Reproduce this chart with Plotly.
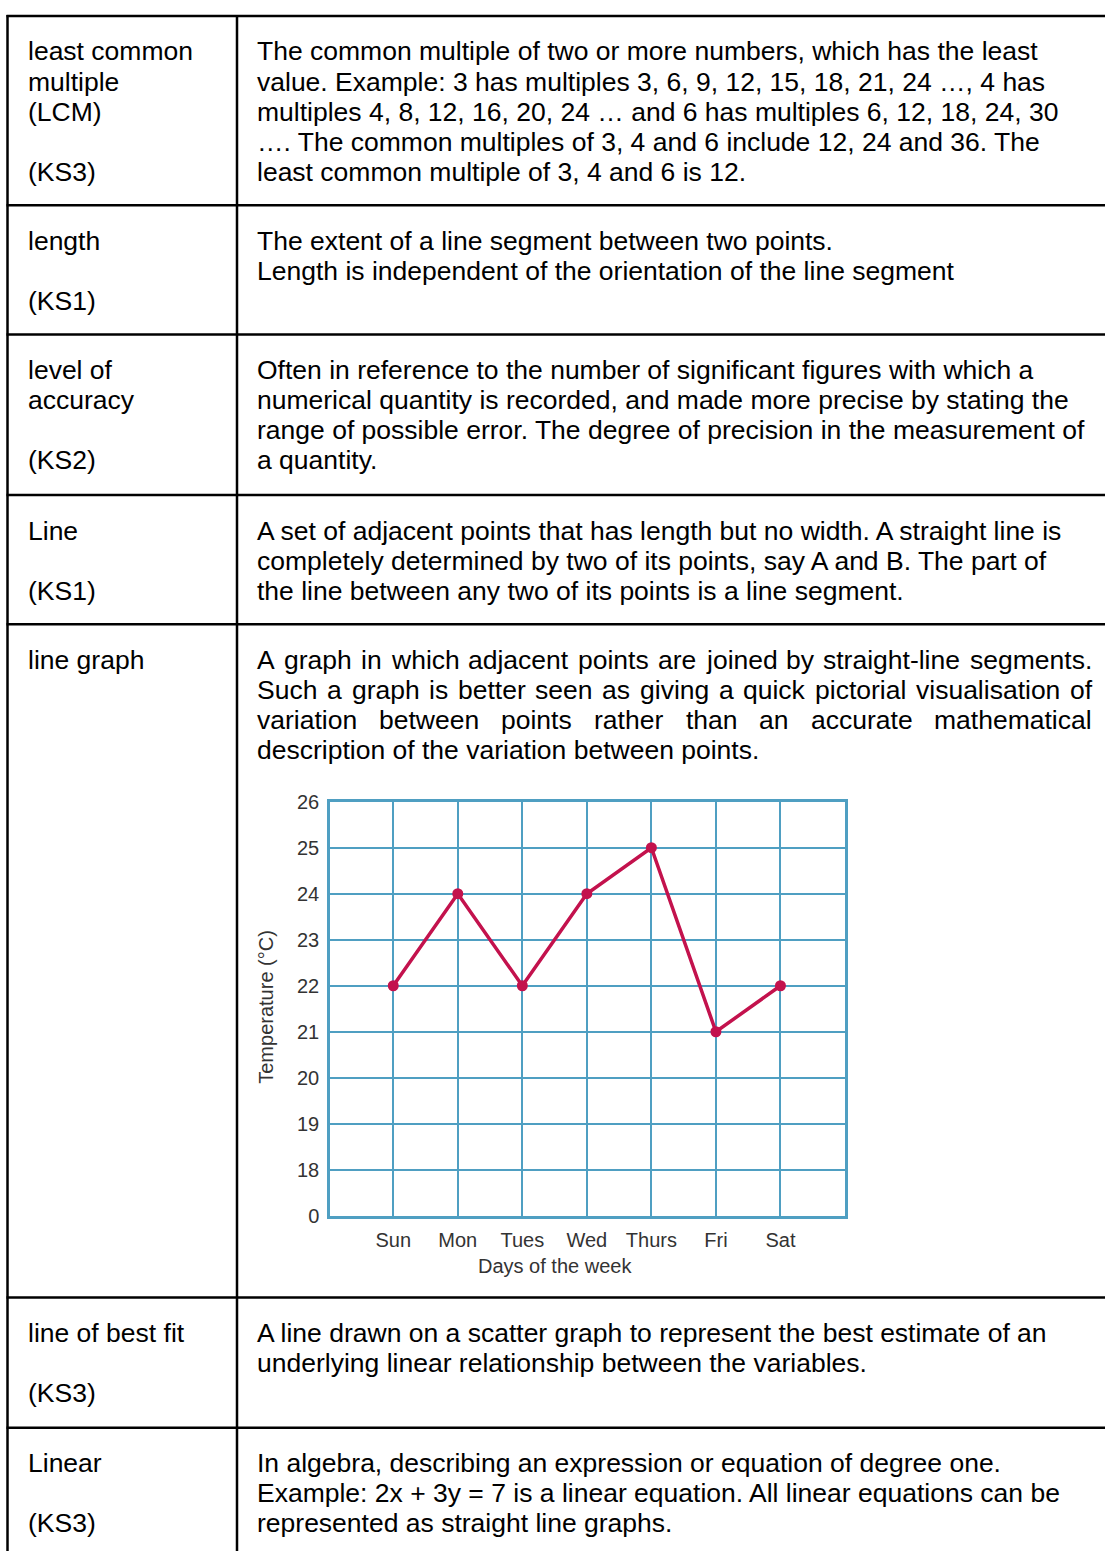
import plotly.graph_objects as go

W, H = 1105, 1562

# ---------------- chart data ----------------
days = ["Sun", "Mon", "Tues", "Wed", "Thurs", "Fri", "Sat"]
temperature = [22, 24, 22, 24, 25, 21, 22]
y_tick_values = [17, 18, 19, 20, 21, 22, 23, 24, 25, 26]
y_tick_labels = ["0", "18", "19", "20", "21", "22", "23", "24", "25", "26"]
x_title = "Days of the week"
y_title = "Temperature (°C)"

# ---------------- table text ----------------
terms = [
    ["least common", "multiple", "(LCM)", "", "(KS3)"],
    ["length", "", "(KS1)"],
    ["level of", "accuracy", "", "(KS2)"],
    ["Line", "", "(KS1)"],
    ["line graph"],
    ["line of best fit", "", "(KS3)"],
    ["Linear", "", "(KS3)"],
]
definitions = [
    ["The common multiple of two or more numbers, which has the least",
     "value. Example: 3 has multiples 3, 6, 9, 12, 15, 18, 21, 24 …, 4 has",
     "multiples 4, 8, 12, 16, 20, 24 … and 6 has multiples 6, 12, 18, 24, 30",
     "…. The common multiples of 3, 4 and 6 include 12, 24 and 36. The",
     "least common multiple of 3, 4 and 6 is 12."],
    ["The extent of a line segment between two points.",
     "Length is independent of the orientation of the line segment"],
    ["Often in reference to the number of significant figures with which a",
     "numerical quantity is recorded, and made more precise by stating the",
     "range of possible error. The degree of precision in the measurement of",
     "a quantity."],
    ["A set of adjacent points that has length but no width. A straight line is",
     "completely determined by two of its points, say A and B. The part of",
     "the line between any two of its points is a line segment."],
    ["A graph in which adjacent points are joined by straight-line segments.",
     "Such a graph is better seen as giving a quick pictorial visualisation of",
     "variation between points rather than an accurate mathematical",
     "description of the variation between points."],
    ["A line drawn on a scatter graph to represent the best estimate of an",
     "underlying linear relationship between the variables."],
    ["In algebra, describing an expression or equation of degree one.",
     "Example: 2x + 3y = 7 is a linear equation. All linear equations can be",
     "represented as straight line graphs."],
]
justified_lines = {(4, 0), (4, 1), (4, 2)}

# ---------------- layout constants ----------------
row_tops = [5, 197, 328, 491, 622, 1305, 1437]
first_line_offset = 36
line_step = 30.55
text_size = 26.5
left_x = 27
right_x = 256
right_edge = 1091
col_x = 237
table_left = 7.5
TEXT_FONT = "Liberation Sans, Arial, sans-serif"

# Arial glyph widths (per 1000 em) for justification
AW = dict(zip("abcdefghijklmnopqrstuvwxyz",
              [556, 556, 500, 556, 556, 278, 556, 556, 222, 222, 500, 222, 833,
               556, 556, 556, 556, 333, 500, 278, 556, 500, 722, 500, 500, 500]))
AW.update(dict(zip("ABCDEFGHIJKLMNOPQRSTUVWXYZ",
                   [667, 667, 722, 722, 667, 611, 778, 722, 278, 500, 667, 556, 833,
                    722, 778, 667, 778, 722, 667, 611, 722, 667, 944, 667, 667, 611])))
AW.update({c: 556 for c in "0123456789"})
AW.update({" ": 278, ".": 278, ",": 278, "-": 333, "(": 333, ")": 333})


def word_width(w):
    return sum(AW.get(c, 556) for c in w) * text_size / 1000.0


def px(x):
    return x / W


def py(y):
    return 1 - y / H


annotations = []


def add_text(x, y, s, size=text_size, color="black", anchor="left"):
    annotations.append(dict(
        x=px(x), y=py(y), xref="paper", yref="paper", text=s,
        showarrow=False, xanchor=anchor, yanchor="middle",
        font=dict(family=TEXT_FONT, size=size, color=color),
        borderpad=0))


for r, top in enumerate(row_tops):
    for i, s in enumerate(terms[r]):
        if s:
            add_text(left_x, top + first_line_offset + i * line_step, s)
    for i, s in enumerate(definitions[r]):
        y = top + first_line_offset + i * line_step
        if (r, i) in justified_lines:
            words = s.split(" ")
            widths = [word_width(w) for w in words]
            gap = (right_edge - right_x - sum(widths)) / (len(words) - 1)
            x = right_x
            for w, wd in zip(words, widths):
                add_text(x, y, w)
                x += wd + gap
        else:
            add_text(right_x, y, s)

# table rules
shapes = []
line_style = dict(color="black", width=2.5)
shapes.append(dict(type="line", xref="paper", yref="paper",
                   x0=px(table_left), x1=px(table_left), y0=py(row_tops[0] - 1), y1=0,
                   line=line_style))
shapes.append(dict(type="line", xref="paper", yref="paper",
                   x0=px(col_x), x1=px(col_x), y0=py(row_tops[0] - 1), y1=0,
                   line=line_style))
for top in row_tops:
    shapes.append(dict(type="line", xref="paper", yref="paper",
                       x0=px(table_left - 1), x1=1, y0=py(top), y1=py(top),
                       line=line_style))

# ---------------- embedded line chart ----------------
GRID = "#4f9fc2"
LINE = "#c3124d"
CHART_FONT = "Liberation Sans, Arial, sans-serif"
plot_left, plot_right, plot_top, plot_bottom = 330, 845, 802, 1222

fig = go.Figure()
fig.add_trace(go.Scatter(
    x=list(range(len(days))), y=temperature, mode="lines+markers",
    line=dict(color=LINE, width=3.5),
    marker=dict(color=LINE, size=11),
    hoverinfo="skip", showlegend=False))

fig.update_xaxes(
    domain=[px(plot_left), px(plot_right)], range=[-0.98, 7],
    tickvals=list(range(len(days))), ticktext=days, ticks="",
    showgrid=True, gridcolor=GRID, gridwidth=2, zeroline=False,
    showline=True, linecolor=GRID, linewidth=2.5, mirror=True,
    tickfont=dict(family=CHART_FONT, size=20, color="#333333"),
    ticklabelstandoff=4, fixedrange=True)
fig.update_yaxes(
    domain=[py(plot_bottom), py(plot_top)], range=[17, 26],
    tickvals=y_tick_values, ticktext=y_tick_labels, ticks="",
    showgrid=True, gridcolor=GRID, gridwidth=2, zeroline=False,
    showline=True, linecolor=GRID, linewidth=2.5, mirror=True,
    tickfont=dict(family=CHART_FONT, size=20, color="#333333"),
    ticklabelstandoff=4, fixedrange=True)

annotations.append(dict(x=px(555), y=py(1273), xref="paper", yref="paper",
                        text=x_title, showarrow=False, xanchor="center", yanchor="middle",
                        font=dict(family=CHART_FONT, size=20, color="#333333")))
annotations.append(dict(x=px(266), y=py(1010), xref="paper", yref="paper",
                        text=y_title, showarrow=False, xanchor="center", yanchor="middle",
                        textangle=-90,
                        font=dict(family=CHART_FONT, size=20, color="#333333")))

fig.update_layout(
    width=W, height=H, margin=dict(l=0, r=0, t=0, b=0),
    paper_bgcolor="white", plot_bgcolor="white",
    annotations=annotations, shapes=shapes, showlegend=False)

reset_css = (
    "var s=document.createElement('style');"
    "s.textContent='html,body{margin:0;padding:0;overflow:hidden;}';"
    "document.head.appendChild(s);"
)
fig.write_html("out.html", config={"displayModeBar": False}, post_script=reset_css)
